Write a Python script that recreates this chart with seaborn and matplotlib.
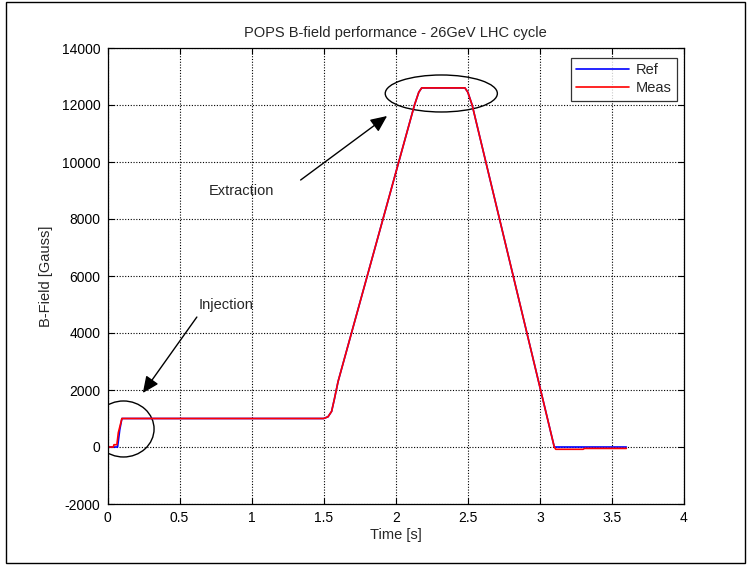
import numpy as np
import pandas as pd
import matplotlib
matplotlib.use("Agg")
import matplotlib.pyplot as plt
import seaborn as sns
from matplotlib.patches import Ellipse, Rectangle
from matplotlib.ticker import FuncFormatter

# ---- data ----
ref_t = [0.0, 0.07, 0.085, 0.1, 1.5, 1.53, 1.555, 1.575, 1.6, 2.13, 2.16, 2.18, 2.48, 2.5, 2.53, 3.1, 3.6]
ref_b = [0, 0, 600, 1000, 1000, 1060, 1250, 1700, 2300, 12000, 12450, 12600, 12600, 12450, 12000, 0, 0]

meas_t = [0.0, 0.04, 0.045, 0.065, 0.075, 0.1, 1.5, 1.53, 1.555, 1.575, 1.6, 2.13, 2.16, 2.18, 2.48, 2.5,
          2.53, 3.1, 3.11, 3.3, 3.31, 3.6]
meas_b = [0, 0, 80, 80, 500, 1000, 1000, 1060, 1250, 1700, 2300, 12000, 12450, 12600, 12600, 12450,
          12000, 0, -80, -80, -50, -50]

series_names = ["Ref", "Meas"]
series_colors = ["#0000ff", "#ff0000"]

x_ticks = [0, 0.5, 1, 1.5, 2, 2.5, 3, 3.5, 4]
y_ticks = [-2000, 0, 2000, 4000, 6000, 8000, 10000, 12000, 14000]

title = "POPS B-field performance - 26GeV LHC cycle"
x_label = "Time [s]"
y_label = "B-Field [Gauss]"

df = pd.concat([
    pd.DataFrame({"Time": ref_t, "B": ref_b, "Series": "Ref"}),
    pd.DataFrame({"Time": meas_t, "B": meas_b, "Series": "Meas"}),
], ignore_index=True)

# ---- style ----
sns.set_style("white")
plt.rcParams['font.family'] = ['Liberation Sans', 'DejaVu Sans']
plt.rcParams['font.size'] = 10

W, H = 748, 565
fig = plt.figure(figsize=(W / 100, H / 100), dpi=100)
fig.patch.set_facecolor("white")

L, R, T, B = 107.5, 684, 48, 504
ax = fig.add_axes([L / W, 1 - B / H, (R - L) / W, (B - T) / H])

sns.lineplot(data=df, x="Time", y="B", hue="Series", hue_order=series_names,
             palette=dict(zip(series_names, series_colors)),
             estimator=None, sort=False, lw=1.2, ax=ax)

ax.set_xlim(0, 4)
ax.set_ylim(-2000, 14000)
ax.set_xticks(x_ticks)
ax.set_yticks(y_ticks)
ax.xaxis.set_major_formatter(FuncFormatter(lambda v, p: f"{v:g}"))
ax.yaxis.set_major_formatter(FuncFormatter(lambda v, p: f"{v:g}"))
ax.tick_params(direction="in", length=4, width=0.8, top=True, right=True,
               bottom=True, left=True, labelsize=10, colors="black", pad=5)
for s in ax.spines.values():
    s.set_color("black")
    s.set_linewidth(0.9)
    s.set_visible(True)
ax.grid(True, linestyle=(0, (1, 1.5)), color="black", linewidth=0.8)
ax.set_axisbelow(True)

ax.set_title(title, fontsize=10.5, pad=8)
ax.set_xlabel(x_label, fontsize=10.5, labelpad=2)
ax.set_ylabel(y_label, fontsize=10.5, labelpad=6)

# legend
leg = ax.legend(loc="upper right", bbox_to_anchor=((677 - L) / (R - L), (B - 58) / (B - T)),
                borderaxespad=0, frameon=True, fancybox=False, edgecolor="black",
                handlelength=3.6, fontsize=10.5, title=None, borderpad=0.35,
                labelspacing=0.3, handletextpad=0.5)
leg.get_frame().set_linewidth(0.9)
for line in leg.get_lines():
    line.set_linewidth(1.2)

# annotations
ax.add_patch(Ellipse((0.111, 632), 0.424, 1965, fill=False, edgecolor="black", lw=1))
ax.add_patch(Ellipse((2.316, 12404), 0.778, 1298, fill=False, edgecolor="black", lw=1))

arrow = dict(arrowstyle="-|>,head_length=1.0,head_width=0.45", color="black", lw=1,
             shrinkA=0, shrinkB=0)
ax.annotate("", xy=(0.245, 1895), xytext=(0.62, 4560), arrowprops=arrow)
ax.annotate("", xy=(1.94, 11614), xytext=(1.34, 9368), arrowprops=arrow)
ax.text(0.63, 4982, "Injection", fontsize=10.5, va="center", ha="left")
ax.text(0.70, 8982, "Extraction", fontsize=10.5, va="center", ha="left")

# figure border
fig.patches.append(Rectangle((6 / W, 2 / H), (W - 9) / W, (H - 4) / H, transform=fig.transFigure,
                             fill=False, edgecolor="black", lw=1))

fig.savefig("out.png", dpi=100, facecolor="white")
